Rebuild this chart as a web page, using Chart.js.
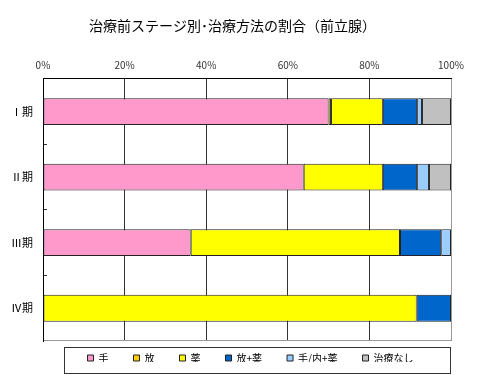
<!DOCTYPE html>
<html>
<head>
<meta charset="utf-8">
<script src="https://cdn.jsdelivr.net/npm/chart.js@4.4.1/dist/chart.umd.min.js"></script>
<style>
  html, body { margin: 0; padding: 0; background: #fff; }
</style>
</head>
<body>
<canvas id="myChart" width="480" height="375"></canvas>
<script>
// data (percent of each stage)
const stages = ['Ⅰ期', 'Ⅱ期', 'Ⅲ期', 'Ⅳ期'];
const te        = [70.0, 63.9, 36.2, 0];    // 手
const hou       = [0.6, 0, 0, 0];           // 放
const yaku      = [12.7, 19.4, 51.3, 91.6]; // 薬
const houYaku   = [8.4, 8.4, 10.1, 8.4];    // 放+薬
const teNaiYaku = [1.2, 2.9, 2.4, 0];       // 手/内+薬
const nashi     = [7.1, 5.4, 0, 0];         // 治療なし
const xTicks    = [0, 20, 40, 60, 80, 100];

Chart.defaults.font.family = "'Noto Sans CJK JP', 'Noto Sans', sans-serif";
Chart.defaults.color = '#222';

function ds(label, data, color) {
  return {
    label: label,
    data: data,
    backgroundColor: color,
    borderColor: '#222',
    borderWidth: c => (c.raw ? 1 : 0),
    borderSkipped: false,
    barPercentage: 0.41,
    categoryPercentage: 1
  };
}

// nudge title + legend, and frame the legend like the original
const legendFrame = {
  id: 'legendFrame',
  afterLayout(chart) {
    const t = chart.titleBlock;
    t.left += 7; t.right += 7;
    const lg = chart.legend;
    lg.left += 25; lg.right += 25;
    lg.top -= 13; lg.bottom -= 13;
  },
  afterDraw(chart) {
    const a = chart.chartArea, ctx = chart.ctx;
    ctx.save();
    ctx.strokeStyle = '#333';
    ctx.lineWidth = 1;
    ctx.strokeRect(Math.round(a.left) + 21.5, Math.round(a.bottom) + 6.5, Math.round(a.right - a.left) - 22, 26);
    ctx.restore();
  }
};

const ctx = document.getElementById('myChart').getContext('2d');
new Chart(ctx, {
  type: 'bar',
  data: {
    labels: stages,
    datasets: [
      ds('手', te, '#FF99CC'),
      ds('放', hou, '#FFCC00'),
      ds('薬', yaku, '#FFFF00'),
      ds('放+薬', houYaku, '#0066CC'),
      ds('手/内+薬', teNaiYaku, '#99CCFF'),
      ds('治療なし', nashi, '#C0C0C0')
    ]
  },
  options: {
    indexAxis: 'y',
    responsive: false,
    animation: false,
    devicePixelRatio: 1,
    layout: { padding: { left: 0, right: 29, top: 0, bottom: 0 } },
    plugins: {
      title: {
        display: true,
        text: '治療前ステージ別･治療方法の割合（前立腺）',
        color: '#000',
        font: { size: 14, weight: 'normal' },
        padding: { top: 17, bottom: 0 }
      },
      legend: {
        position: 'bottom',
        maxHeight: 34,
        labels: {
          color: '#000',
          font: { size: 10 },
          boxWidth: 6,
          boxHeight: 6,
          padding: 25
        }
      },
      tooltip: { enabled: false }
    },
    scales: {
      x: {
        position: 'top',
        stacked: true,
        min: 0,
        max: 100,
        afterBuildTicks: s => { s.ticks = xTicks.map(v => ({ value: v })); },
        ticks: {
          callback: v => v + '%',
          font: { size: 10 },
          color: '#333',
          padding: 8,
          maxRotation: 0
        },
        grid: {
          color: c => (c.tick && c.tick.value === 100 ? '#999' : '#333'),
          drawTicks: false
        },
        border: { display: true, color: '#000' },
        afterFit: s => { s.height = 45; }
      },
      y: {
        stacked: true,
        ticks: {
          font: { size: 11 },
          color: '#000',
          padding: 14
        },
        grid: {
          offset: true,
          tickLength: -4,
          color: c => (c.tick ? 'transparent' : '#999'),
          tickColor: c => (c.tick && c.index > 0 ? '#333' : 'transparent')
        },
        border: { display: true, color: '#000' },
        afterFit: s => { s.width = 43; }
      }
    }
  },
  plugins: [legendFrame]
});
</script>
</body>
</html>
